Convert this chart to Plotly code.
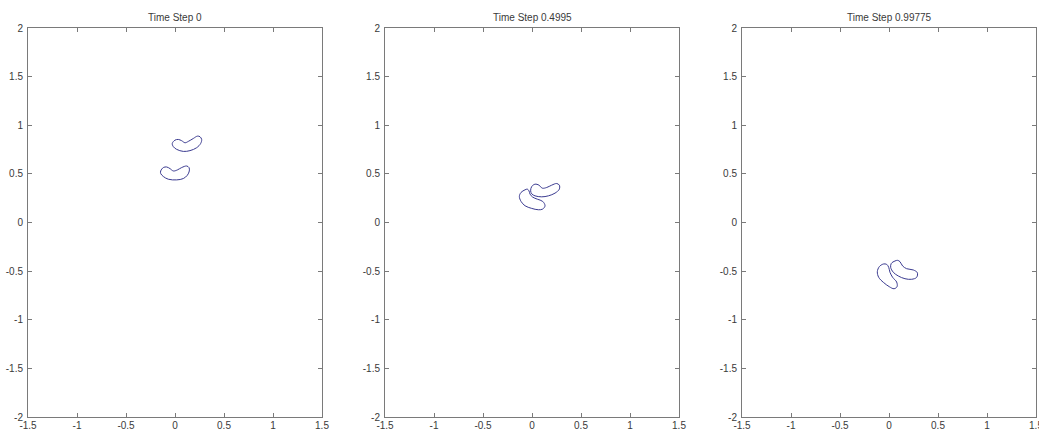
import plotly.graph_objects as go

# Contour outlines of the two bodies at each time step (x, y in domain units)
titles = ["Time Step 0", "Time Step 0.4995", "Time Step 0.99775"]

t0_body1_x = [-0.028, 0.000, 0.034, 0.068, 0.102, 0.136, 0.187, 0.228, 0.255, 0.272,
              0.262, 0.221, 0.153, 0.085, 0.017, -0.017]
t0_body1_y = [0.813, 0.847, 0.854, 0.841, 0.820, 0.834, 0.864, 0.888, 0.882, 0.854,
              0.813, 0.769, 0.739, 0.731, 0.752, 0.780]
t0_body2_x = [-0.146, -0.119, -0.085, -0.051, -0.017, 0.023, 0.068, 0.119, 0.143, 0.146,
              0.126, 0.085, 0.017, -0.068, -0.119, -0.146]
t0_body2_y = [0.530, 0.565, 0.571, 0.554, 0.530, 0.540, 0.565, 0.581, 0.565, 0.530,
              0.486, 0.452, 0.438, 0.445, 0.473, 0.504]

t1_body1_x = [-0.071, -0.112, -0.129, -0.112, -0.071, -0.003, 0.065, 0.109, 0.133, 0.109,
              0.054, 0.007, -0.020, -0.031, -0.048]
t1_body1_y = [0.336, 0.309, 0.268, 0.217, 0.172, 0.145, 0.131, 0.138, 0.172, 0.217,
              0.240, 0.261, 0.292, 0.326, 0.343]
t1_body2_x = [-0.014, -0.003, 0.031, 0.071, 0.105, 0.150, 0.201, 0.252, 0.279, 0.279,
              0.235, 0.167, 0.099, 0.031, -0.003]
t1_body2_y = [0.326, 0.370, 0.394, 0.384, 0.353, 0.360, 0.384, 0.401, 0.384, 0.343,
              0.302, 0.274, 0.264, 0.274, 0.295]

t2_body1_x = [-0.058, -0.099, -0.119, -0.105, -0.058, 0.003, 0.051, 0.082, 0.078, 0.037,
              0.010, -0.003, -0.024]
t2_body1_y = [-0.427, -0.454, -0.506, -0.564, -0.615, -0.660, -0.681, -0.660, -0.612, -0.564,
              -0.512, -0.461, -0.430]
t2_body2_x = [0.061, 0.024, 0.017, 0.044, 0.095, 0.163, 0.231, 0.282, 0.289, 0.248,
              0.180, 0.139, 0.112, 0.088]
t2_body2_y = [-0.396, -0.420, -0.461, -0.512, -0.550, -0.578, -0.584, -0.564, -0.516, -0.488,
              -0.475, -0.447, -0.403, -0.389]

x_ticks = [-1.5, -1, -0.5, 0, 0.5, 1, 1.5]
x_labels = ["-1.5", "-1", "-0.5", "0", "0.5", "1", "1.5"]
y_ticks = [-2, -1.5, -1, -0.5, 0, 0.5, 1, 1.5, 2]
y_labels = ["-2", "-1.5", "-1", "-0.5", "0", "0.5", "1", "1.5", "2"]

panels = [
    [(t0_body1_x, t0_body1_y), (t0_body2_x, t0_body2_y)],
    [(t1_body1_x, t1_body1_y), (t1_body2_x, t1_body2_y)],
    [(t2_body1_x, t2_body1_y), (t2_body2_x, t2_body2_y)],
]

W, H = 1039, 432
left_px = [28, 385, 742]
width_px = 294
top_px, bottom_px = 28, 417

line_color = "#3a3a90"
axis_color = "#7a7a7a"
font = dict(family="Liberation Sans, Arial, sans-serif", size=10, color="#3a3a3a")

fig = go.Figure()
for i, bodies in enumerate(panels):
    xa = "x" if i == 0 else f"x{i+1}"
    ya = "y" if i == 0 else f"y{i+1}"
    for bx, by in bodies:
        fig.add_trace(go.Scatter(
            x=list(bx) + [bx[0]], y=list(by) + [by[0]],
            mode="lines", line=dict(color=line_color, width=1, shape="spline", smoothing=1.0),
            xaxis=xa, yaxis=ya, showlegend=False, hoverinfo="skip",
        ))

    d0 = left_px[i] / W
    d1 = (left_px[i] + width_px) / W
    axis_common = dict(
        showgrid=False, zeroline=False, showline=True, mirror="ticks",
        linecolor=axis_color, linewidth=1, ticks="inside", ticklen=4,
        tickcolor=axis_color, tickwidth=1, tickfont=font, fixedrange=True,
        automargin=False, ticklabeloverflow="allow",
    )
    xkey = "xaxis" if i == 0 else f"xaxis{i+1}"
    ykey = "yaxis" if i == 0 else f"yaxis{i+1}"
    fig.update_layout(**{
        xkey: dict(domain=[d0, d1], range=[-1.5, 1.5], tickvals=x_ticks, ticktext=x_labels,
                   anchor=ya, ticklabelstandoff=-1, **axis_common),
        ykey: dict(domain=[1 - bottom_px / H, 1 - top_px / H], range=[-2, 2],
                   tickvals=y_ticks, ticktext=y_labels, anchor=xa, ticklabelstandoff=2,
                   **axis_common),
    })
    fig.add_annotation(
        text=titles[i], x=(d0 + d1) / 2, y=1 - 17 / H, xref="paper", yref="paper",
        showarrow=False, font=font, xanchor="center", yanchor="middle",
    )

fig.update_layout(
    width=W, height=H, margin=dict(l=0, r=0, t=0, b=0),
    paper_bgcolor="white", plot_bgcolor="white",
)

fig.write_html("out.html")
